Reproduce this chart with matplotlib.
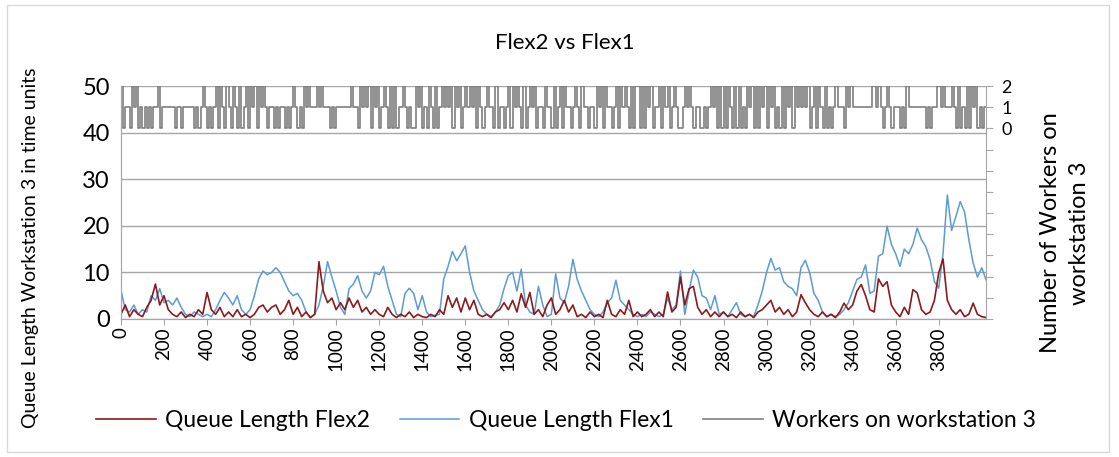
import matplotlib.pyplot as plt
import numpy as np
from matplotlib.patches import Rectangle

plt.rcParams['font.family'] = ['Lato', 'DejaVu Sans']

# queue lengths read every 20 time units (t = 0, 20, ..., 4020)
time_step = 20
flex1_queue = [
    6.2, 2, 1.5, 3, 1, 2, 1.5, 5, 4, 6.5,
    3.5, 4, 3, 4.5, 2.5, 1, 0.5, 1.5, 1, 0.5,
    1, 0.5, 2, 4, 5.7, 4.5, 3, 5, 2, 1,
    2, 5, 8.6, 10.3, 9.5, 10, 11, 10, 8, 6,
    5, 5.5, 4, 1.5, 0.3, 1, 3, 7, 12.3, 9,
    6, 2.5, 1, 6.5, 7.5, 9.3, 6, 4.5, 6, 10,
    9.5, 11.3, 7, 4, 1, 0.5, 5.5, 6.6, 5.5, 2,
    5, 1.5, 0.5, 0.8, 1, 8.6, 11.3, 14.5, 12.5, 14,
    15.7, 10, 6, 4, 2, 1, 0.5, 1.5, 3, 6.5,
    9.3, 10, 6, 10.7, 3, 1.5, 1, 7, 3, 0.5,
    1, 9.7, 4.5, 3.5, 7, 12.8, 8.5, 6, 4, 2,
    1, 0.5, 1.5, 3.5, 4.5, 8.3, 4, 3, 2, 1,
    0.5, 1, 0.5, 1.5, 1, 0.5, 1, 4.5, 2, 3,
    10.3, 1, 6, 10.5, 9, 5, 4.5, 2, 5, 1,
    1.5, 0.5, 2, 3.5, 1, 0.5, 1, 0.5, 3, 6,
    10, 13, 10.5, 11, 8, 7, 6.5, 5, 11, 12.6,
    10, 5.5, 4, 1.5, 0.5, 1, 0.5, 1, 2, 3.5,
    6, 8.5, 9, 11.6, 5.5, 6, 13.5, 14, 19.9, 16,
    14, 11.3, 15, 14, 16, 19.5, 17, 15.5, 12.7, 8,
    6.6, 14, 26.6, 19, 22, 25.2, 23, 17, 12, 9,
    11, 8.4,
]
flex2_queue = [
    1, 3, 0.5, 2, 1, 0.5, 2.5, 4, 7.5, 3,
    5, 2, 1, 0.5, 1.5, 0.3, 1, 0.5, 2, 1,
    5.7, 2, 1, 2.5, 0.5, 1.5, 0.5, 2, 0.5, 1,
    0.3, 1, 2.5, 3, 1.5, 2.5, 3, 1, 2, 4,
    1, 2.5, 0.5, 1.5, 0.3, 1, 12.3, 6, 3.5, 4.5,
    2, 3.5, 2, 4.5, 2.5, 4, 1.5, 2.5, 1, 2,
    1, 0.5, 2.5, 1, 0.3, 1, 0.5, 1.5, 0.3, 1,
    0.5, 0.3, 1, 0.5, 2, 1, 5, 2.5, 4.5, 1.5,
    4.5, 2, 4, 1, 0.5, 1, 0.3, 1.5, 2, 3.5,
    2, 4, 1.5, 5.4, 2.5, 5.7, 1, 2, 0.5, 3,
    4.5, 1, 2, 4, 1.5, 3, 0.5, 1, 0.3, 1.5,
    0.5, 1, 0.3, 4, 1, 0.5, 2, 1, 4, 0.5,
    1.5, 0.5, 1, 2, 0.5, 1.5, 0.5, 5.8, 1.5, 2.5,
    9, 3, 6.5, 7, 2.5, 1, 2, 0.5, 1.5, 0.5,
    1.5, 0.5, 1, 0.3, 1.5, 0.5, 1, 0.3, 1.5, 2,
    3, 4, 1.5, 2.5, 1, 2, 0.5, 1.5, 5.2, 3.5,
    2, 1, 0.5, 1.5, 0.5, 1, 0.3, 1.5, 3.4, 2,
    3, 6, 7.4, 5, 2, 1.5, 8.6, 7, 8, 3,
    1.5, 0.5, 2.5, 1, 6.3, 5.6, 2, 1, 1.5, 4,
    9.9, 12.9, 4, 2, 1, 2, 0.5, 1, 3.4, 1,
    0.5, 0.3,
]

# workers on workstation 3, one level every 10 time units
worker_step = 10
workers = (
    "2011021201" "0101011201" "1111101101" "1111010121" "0101202102"
    "1021020120" "2120212101" "1010110101" "2101021211" "1212111010"
    "1111111211" "0212120212" "0121020201" "1210100212" "0102102012"
    "1212021201" "2121202101" "2110201101" "2021210201" "2120110211"
    "0201202110" "1210211011" "0212021101" "2021210202" "2020212011"
    "2021201210" "0121210110" "0101212020" "2021020201" "0212020212"
    "0212010202" "1202121212" "0120210201" "0121110212" "1111111112"
    "2121012101" "1101021111" "1111010112" "2121112102" "0102021201"
    "011"
)

x_ticks = np.arange(0, 4000, 200)
left_ticks = [0, 10, 20, 30, 40, 50]
right_ticks = np.arange(-9, 3)

t_q = np.arange(len(flex1_queue)) * time_step
t_w = np.arange(len(workers)) * worker_step
levels = [int(c) for c in workers]

fig = plt.figure(figsize=(11.19, 4.57), dpi=100)
fig.patches.append(Rectangle((0.006, 0.012), 0.985, 0.978, transform=fig.transFigure,
                             fill=False, ec='#D9D9D9', lw=1))
ax = fig.add_axes([0.1081, 0.302, 0.7731, 0.5098])
ax2 = ax.twinx()

red = '#8B1A1A'
blue = '#5B9BD5'
grey = '#7F7F7F'

l1, = ax.plot(t_q, flex2_queue, color=red, lw=1.2, zorder=3)
l2, = ax.plot(t_q, flex1_queue, color=blue, lw=1.1, zorder=2)
l3, = ax2.step(t_w, levels, where='post', color=grey, lw=1.2)

ax.set_xlim(0, 4020)
ax.set_ylim(0, 50)
ax2.set_ylim(-9, 2)

ax.set_yticks(left_ticks)
ax.set_yticklabels([str(v) for v in left_ticks], fontsize=17)
ax.set_xticks(x_ticks)
ax.set_xticklabels([str(v) for v in x_ticks], rotation=90, fontsize=13.5)
ax.tick_params(axis='y', length=0, pad=8)
ax.tick_params(axis='x', length=4, color='#A6A6A6', pad=2)

ax2.set_yticks(right_ticks)
ax2.set_yticklabels([str(v) if v >= 0 else '' for v in right_ticks], fontsize=13)
ax2.tick_params(axis='y', length=5, color='#A6A6A6', pad=6)

ax.grid(axis='y', color='#A6A6A6', lw=1)
ax.set_axisbelow(True)
ax.spines['top'].set_visible(False)
ax2.spines['top'].set_visible(False)
for s in ['left', 'bottom', 'right']:
    ax.spines[s].set_color('#A6A6A6')
    ax2.spines[s].set_color('#A6A6A6')
ax.spines['right'].set_visible(False)

fig.text(0.505, 0.905, 'Flex2 vs Flex1', ha='center', va='center', fontsize=16)
fig.text(0.027, 0.457, 'Queue Length Workstation 3 in time units', rotation=90,
         ha='center', va='center', fontsize=14)
fig.text(0.952, 0.49, 'Number of Workers on\nworkstation 3', rotation=90,
         ha='center', va='center', fontsize=17, linespacing=1.45)

fig.legend([l1, l2, l3], ['Queue Length Flex2', 'Queue Length Flex1', 'Workers on workstation 3'],
           loc='center', bbox_to_anchor=(0.506, 0.079), ncol=3, frameon=False, fontsize=16.5,
           handlelength=2.6, columnspacing=1.3, handletextpad=0.4)

fig.savefig('out.png', dpi=100)
